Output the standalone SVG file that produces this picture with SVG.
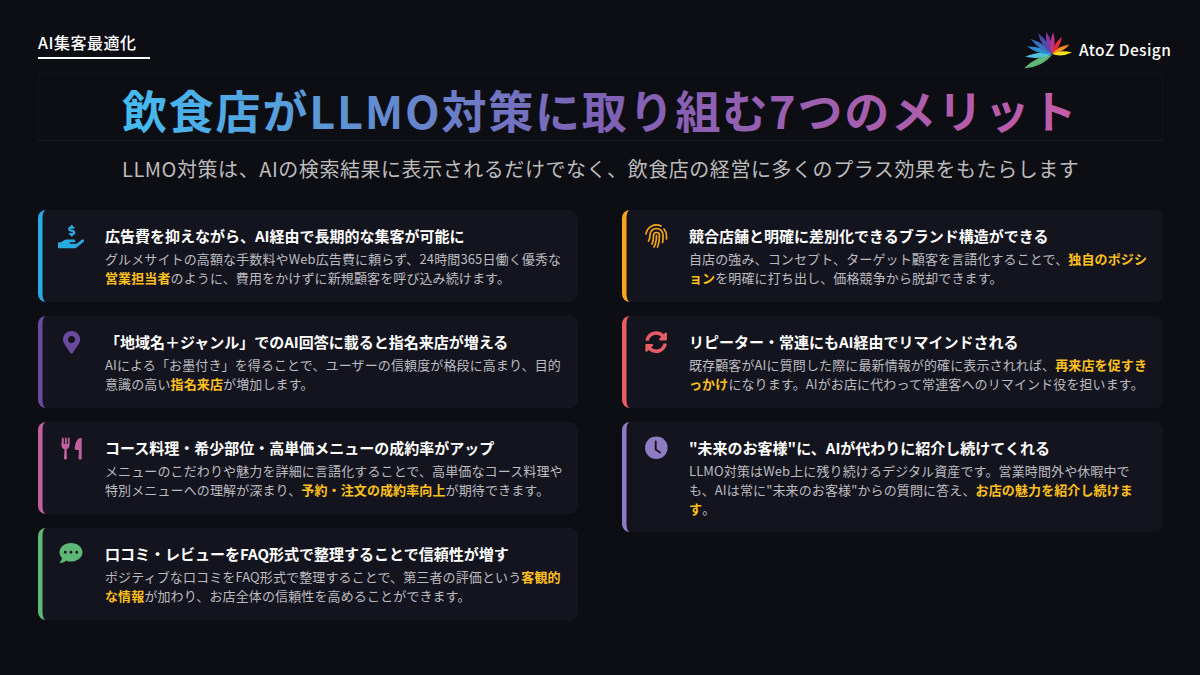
<svg xmlns="http://www.w3.org/2000/svg" xmlns:xlink="http://www.w3.org/1999/xlink" width="1200" height="675" viewBox="0 0 1200 675">
<style>
text{font-family:"Noto Sans CJK JP","Noto Sans",sans-serif}
.ct{font-size:15px;font-weight:700;fill:#fff}
.cb{font-size:13px;font-weight:400;fill:#bcbcc0;letter-spacing:.12px}
.hl{font-weight:700;fill:#fdc01f}
.card{fill:#14141e}
</style>
<defs>
<linearGradient id="tg" gradientUnits="userSpaceOnUse" x1="122" y1="0" x2="1076" y2="0">
<stop offset="0" stop-color="#43bdf0"/><stop offset="0.5" stop-color="#7d62b5"/><stop offset="1" stop-color="#c45ba8"/>
</linearGradient>
<path id="leaf" d="M0 0Q.45 -.6 1 0Q.45 .6 0 0Z"/>
</defs>
<rect width="1200" height="675" fill="#0d0d14"/>

<g id="category">
<text x="38" y="48.500" font-size="16" font-weight="500" fill="#fff" letter-spacing="0.5">AI集客最適化</text>
<rect x="38" y="57" width="112" height="2" fill="#fff"/>
</g>

<g id="logo">
<g transform="translate(1052 54)">
<use xlink:href="#leaf" href="#leaf" fill="#5fb878" transform="translate(0 1) rotate(154) scale(31 11)"/>
<use xlink:href="#leaf" href="#leaf" fill="#4fc3dc" transform="rotate(174) scale(27 8)"/>
<use xlink:href="#leaf" href="#leaf" fill="#2a8fd0" transform="rotate(197) scale(26 8)"/>
<use xlink:href="#leaf" href="#leaf" fill="#3a6fc0" transform="rotate(215) scale(26 8)"/>
<use xlink:href="#leaf" href="#leaf" fill="#4f4aa8" transform="rotate(236) scale(25 8)"/>
<use xlink:href="#leaf" href="#leaf" fill="#7a3ea0" transform="rotate(255) scale(23 8)"/>
<use xlink:href="#leaf" href="#leaf" fill="#c0308f" transform="rotate(273) scale(22 7)"/>
<use xlink:href="#leaf" href="#leaf" fill="#e52d3a" transform="rotate(300) scale(20 7)"/>
<use xlink:href="#leaf" href="#leaf" fill="#f58a1f" transform="rotate(332) scale(20 7)"/>
<use xlink:href="#leaf" href="#leaf" fill="#f7e01c" transform="rotate(356) scale(20 7)"/>
</g>
<text x="1079" y="56" font-size="15.500" font-weight="500" fill="#fff" letter-spacing="0.4">AtoZ Design</text>
</g>

<g id="header">
<rect x="38.500" y="73.500" width="1124" height="67" fill="none" stroke="#12131a" stroke-width="1"/>
<rect x="38" y="140" width="1125" height="1" fill="#1a1c24"/>
<text x="122" y="129" font-size="45" font-weight="700" letter-spacing="1.800" fill="url(#tg)">飲食店がLLMO対策に取り組む7つのメリット</text>
<text x="122" y="177" font-size="20" fill="#bcbcbc" letter-spacing="0.55">LLMO対策は、AIの検索結果に表示されるだけでなく、飲食店の経営に多くのプラス効果をもたらします</text>
</g>

<g id="card-1">
<rect class="bar" x="38" y="210" width="30" height="92" rx="8" fill="#29abe2"/>
<path class="card" d="M46 210H570a8 8 0 0 1 8 8V294a8 8 0 0 1 -8 8H46a3.500 8 0 0 1 -3.500 -8V218a3.500 8 0 0 1 3.500 -8Z"/>
<path fill="#29abe2" transform="translate(58 225) scale(0.0452)" d="M271.06,144.3l54.27,14.3a8.59,8.59,0,0,1,6.63,8.1c0,4.6-4.09,8.4-9.12,8.4h-35.6a30,30,0,0,1-11.19-2.2c-5.24-2.2-11.28-1.7-15.3,2l-19,17.5a11.68,11.68,0,0,0-2.25,2.66,11.42,11.42,0,0,0,3.88,15.74,83.77,83.77,0,0,0,34.51,11.5V240c0,8.8,7.83,16,17.37,16h17.37c9.55,0,17.38-7.2,17.38-16V222.4c32.93-3.6,57.84-31,53.5-63-3.15-23-22.46-41.3-46.56-47.7L282.68,97.4a8.59,8.59,0,0,1-6.63-8.1c0-4.6,4.09-8.4,9.12-8.4h35.6A30,30,0,0,1,332,83.1c5.23,2.2,11.28,1.7,15.3-2l19-17.5A11.31,11.31,0,0,0,368.47,61a11.43,11.43,0,0,0-3.84-15.78,83.82,83.82,0,0,0-34.52-11.5V16c0-8.8-7.82-16-17.37-16H295.37C285.82,0,278,7.2,278,16V33.6c-32.89,3.6-57.85,31-53.51,63C227.63,119.6,247,137.9,271.06,144.3ZM565.27,328.1c-11.8-10.7-30.2-10-42.6,0L430.27,402a63.64,63.64,0,0,1-40,14H272a16,16,0,0,1,0-32h78.29c15.9,0,30.71-10.9,33.25-26.6a31.2,31.2,0,0,0,.46-5.46A32,32,0,0,0,352,320H192a117.66,117.66,0,0,0-74.1,26.29L71.4,384H16A16,16,0,0,0,0,400v96a16,16,0,0,0,16,16H372.77a64,64,0,0,0,40-14L564,377a32,32,0,0,0,1.28-48.9Z"/>
<text class="ct" x="105" y="241.500">広告費を抑えながら、AI経由で長期的な集客が可能に</text>
<text class="cb" x="105" y="264">グルメサイトの高額な手数料やWeb広告費に頼らず、24時間365日働く優秀な</text>
<text class="cb" x="105" y="283"><tspan class="hl">営業担当者</tspan>のように、費用をかけずに新規顧客を呼び込み続けます。</text>
</g>

<g id="card-2">
<rect class="bar" x="38" y="316" width="30" height="92" rx="8" fill="#6a4a9e"/>
<path class="card" d="M46 316H570a8 8 0 0 1 8 8V400a8 8 0 0 1 -8 8H46a3.500 8 0 0 1 -3.500 -8V324a3.500 8 0 0 1 3.500 -8Z"/>
<path fill="#6a4a9e" transform="translate(63 331) scale(0.0446)" d="M172.268 501.67C26.97 291.031 0 255.197 0 192 0 85.961 85.961 0 192 0s192 85.961 192 192c0 63.197-26.97 99.031-172.268 309.67-9.535 13.774-29.93 13.773-39.464 0zM192 272c44.183 0 80-35.817 80-80s-35.817-80-80-80-80 35.817-80 80 35.817 80 80 80z"/>
<text class="ct" x="105" y="347.500">「地域名＋ジャンル」でのAI回答に載ると指名来店が増える</text>
<text class="cb" x="105" y="370">AIによる「お墨付き」を得ることで、ユーザーの信頼度が格段に高まり、目的</text>
<text class="cb" x="105" y="389">意識の高い<tspan class="hl">指名来店</tspan>が増加します。</text>
</g>

<g id="card-3">
<rect class="bar" x="38" y="422" width="30" height="92" rx="8" fill="#c2609f"/>
<path class="card" d="M46 422H570a8 8 0 0 1 8 8V506a8 8 0 0 1 -8 8H46a3.500 8 0 0 1 -3.500 -8V430a3.500 8 0 0 1 3.500 -8Z"/>
<path fill="#c2609f" d="M62 438.500a.9.9 0 0 1 1.800 0V444h1.100V438.500a.9.9 0 0 1 1.800 0V444h1.100V438.500a.9.9 0 0 1 1.800 0V445c0 2.200-1.300 3.800-3 4.300l.4 9a1.200 1.200 0 0 1-1.200 1.200h-.6a1.200 1.200 0 0 1-1.200-1.200l.4-9c-1.700-.5-3-2.100-3-4.300Z"/>
<path fill="#c2609f" d="M81.700 438.500V458.500a1 1 0 0 1 -1 1h-1.200a1 1 0 0 1-1-1l.4-8.500h-2.500c-1 0-1.700-.8-1.600-1.800.3-4 1.500-9.700 5.500-10.300a1.200 1.200 0 0 1 1.400 .6Z"/>
<text class="ct" x="105" y="453.500">コース料理・希少部位・高単価メニューの成約率がアップ</text>
<text class="cb" x="105" y="476">メニューのこだわりや魅力を詳細に言語化することで、高単価なコース料理や</text>
<text class="cb" x="105" y="495">特別メニューへの理解が深まり、<tspan class="hl">予約・注文の成約率向上</tspan>が期待できます。</text>
</g>

<g id="card-4">
<rect class="bar" x="38" y="528" width="30" height="92" rx="8" fill="#5cb874"/>
<path class="card" d="M46 528H570a8 8 0 0 1 8 8V612a8 8 0 0 1 -8 8H46a3.500 8 0 0 1 -3.500 -8V536a3.500 8 0 0 1 3.500 -8Z"/>
<path fill="#5cb874" transform="translate(59.500 541.500) scale(0.0449)" d="M256 32C114.600 32 0 125.100 0 240c0 49.600 21.400 95 57 130.700C44.500 421.100 2.700 466 2.200 466.500c-2.200 2.300-2.800 5.700-1.500 8.700S4.800 480 8 480c66.300 0 116-31.800 140.600-51.400 32.700 12.300 69 19.400 107.400 19.400 141.400 0 256-93.100 256-208S397.400 32 256 32zM128 272c-17.700 0-32-14.300-32-32s14.300-32 32-32 32 14.300 32 32-14.300 32-32 32zm128 0c-17.700 0-32-14.300-32-32s14.300-32 32-32 32 14.300 32 32-14.300 32-32 32zm128 0c-17.700 0-32-14.300-32-32s14.300-32 32-32 32 14.300 32 32-14.300 32-32 32z"/>
<text class="ct" x="105" y="559.500">口コミ・レビューをFAQ形式で整理することで信頼性が増す</text>
<text class="cb" x="105" y="582">ポジティブな口コミをFAQ形式で整理することで、第三者の評価という<tspan class="hl">客観的</tspan></text>
<text class="cb" x="105" y="601"><tspan class="hl">な情報</tspan>が加わり、お店全体の信頼性を高めることができます。</text>
</g>

<g id="card-5">
<rect class="bar" x="622" y="210" width="30" height="92" rx="8" fill="#f7a51b"/>
<path class="card" d="M630 210H1155a8 8 0 0 1 8 8V294a8 8 0 0 1 -8 8H630a3.500 8 0 0 1 -3.500 -8V218a3.500 8 0 0 1 3.500 -8Z"/>
<g fill="none" stroke="#f7a51b" stroke-width="1.700" stroke-linecap="round">
<path d="M646 234a10.500 10.500 0 0 1 15 -8M664 229a10.500 10.500 0 0 1 2.500 7v3"/>
<path d="M648.500 241c1.500-2 1.500-4 1.500-6a6.500 6.500 0 0 1 13 0v3.500c0 1.500-.2 3-.5 4"/>
<path d="M652 244c1.300-2.500 1.500-5 1.500-8.500a3 3 0 0 1 6 0c0 2 0 7-2 11.500"/>
<path d="M656.500 235.500c0 4-.5 8-2.500 11.500"/>
</g>
<text class="ct" x="689" y="241.500">競合店舗と明確に差別化できるブランド構造ができる</text>
<text class="cb" x="689" y="264">自店の強み、コンセプト、ターゲット顧客を言語化することで、<tspan class="hl">独自のポジシ</tspan></text>
<text class="cb" x="689" y="283"><tspan class="hl">ョン</tspan>を明確に打ち出し、価格競争から脱却できます。</text>
</g>

<g id="card-6">
<rect class="bar" x="622" y="316" width="30" height="92" rx="8" fill="#e85d65"/>
<path class="card" d="M630 316H1155a8 8 0 0 1 8 8V400a8 8 0 0 1 -8 8H630a3.500 8 0 0 1 -3.500 -8V324a3.500 8 0 0 1 3.500 -8Z"/>
<path fill="#e85d65" transform="translate(645 331) scale(0.0436)" d="M370.720 133.280C339.458 104.008 298.888 87.962 255.848 88c-77.458.068-144.328 53.178-162.791 126.850-1.344 5.363-6.122 9.150-11.651 9.150H24.103c-7.498 0-13.194-6.807-11.807-14.176C33.933 94.924 134.813 8 256 8c66.448 0 126.791 26.136 171.315 68.685L463.030 40.970C478.149 25.851 504 36.559 504 57.941V192c0 13.255-10.745 24-24 24H345.941c-21.382 0-32.090-25.851-16.971-40.971l41.750-41.749zM32 296h134.059c21.382 0 32.090 25.851 16.971 40.971l-41.750 41.750c31.262 29.273 71.835 45.319 114.876 45.280 77.418-.070 144.315-53.144 162.787-126.849 1.344-5.363 6.122-9.150 11.651-9.150h57.304c7.498 0 13.194 6.807 11.807 14.176C478.067 417.076 377.187 504 256 504c-66.448 0-126.791-26.136-171.315-68.685L48.970 471.030C33.851 486.149 8 475.441 8 454.059V320c0-13.255 10.745-24 24-24z"/>
<text class="ct" x="689" y="347.500">リピーター・常連にもAI経由でリマインドされる</text>
<text class="cb" x="689" y="370">既存顧客がAIに質問した際に最新情報が的確に表示されれば、<tspan class="hl">再来店を促すき</tspan></text>
<text class="cb" x="689" y="389"><tspan class="hl">っかけ</tspan>になります。AIがお店に代わって常連客へのリマインド役を担います。</text>
</g>

<g id="card-7">
<rect class="bar" x="622" y="422" width="30" height="110" rx="8" fill="#8e7cc3"/>
<path class="card" d="M630 422H1155a8 8 0 0 1 8 8V524a8 8 0 0 1 -8 8H630a3.500 8 0 0 1 -3.500 -8V430a3.500 8 0 0 1 3.500 -8Z"/>
<circle cx="656.300" cy="447.800" r="11.300" fill="#8e7cc3"/>
<path d="M655.700 441.500V449.500L660 452.500" fill="none" stroke="#14141e" stroke-width="1.900" stroke-linecap="round" stroke-linejoin="round"/>
<text class="ct" x="689" y="453.500">"未来のお客様"に、AIが代わりに紹介し続けてくれる</text>
<text class="cb" x="689" y="476">LLMO対策はWeb上に残り続けるデジタル資産です。営業時間外や休暇中で</text>
<text class="cb" x="689" y="495">も、AIは常に"未来のお客様"からの質問に答え、<tspan class="hl">お店の魅力を紹介し続けま</tspan></text>
<text class="cb" x="689" y="514"><tspan class="hl">す</tspan>。</text>
</g>

<g id="connectors"></g>
</svg>
